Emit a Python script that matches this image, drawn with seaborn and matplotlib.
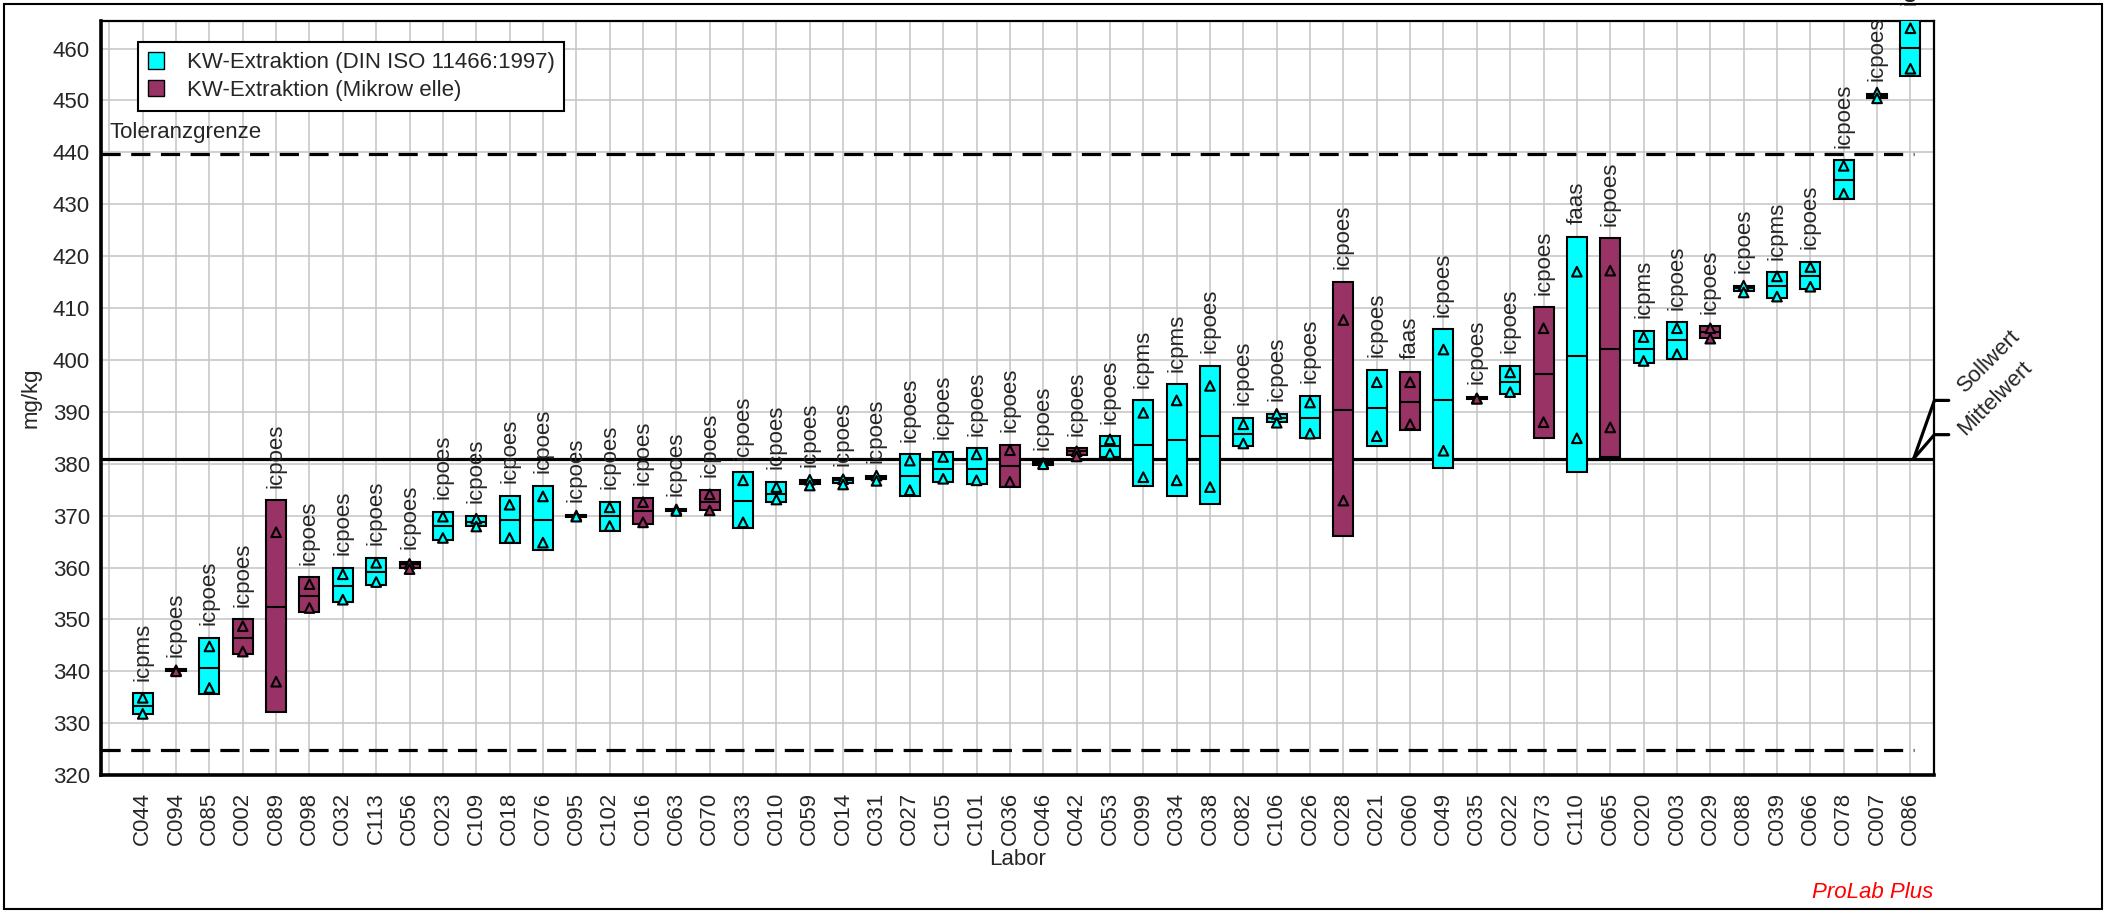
import matplotlib
matplotlib.use("Agg")
import numpy as np
import pandas as pd
import matplotlib.pyplot as plt
from matplotlib.patches import Patch, Rectangle
import seaborn as sns

# Labore in Reihenfolge der Darstellung
labs = ["C044", "C094", "C085", "C002", "C089", "C098", "C032", "C113", "C056", "C023",
        "C109", "C018", "C076", "C095", "C102", "C016", "C063", "C070", "C033", "C010",
        "C059", "C014", "C031", "C027", "C105", "C101", "C036", "C046", "C042", "C053",
        "C099", "C034", "C038", "C082", "C106", "C026", "C028", "C021", "C060", "C049",
        "C035", "C022", "C073", "C110", "C065", "C020", "C003", "C029", "C088", "C039",
        "C066", "C078", "C007", "C086"]

methods = ["icpms", "icpoes", "icpoes", "icpoes", "icpoes", "icpoes", "icpoes", "icpoes", "icpoes", "icpoes",
           "icpoes", "icpoes", "icpoes", "icpoes", "icpoes", "icpoes", "icpoes", "icpoes", "icpoes", "icpoes",
           "icpoes", "icpoes", "icpoes", "icpoes", "icpoes", "icpoes", "icpoes", "icpoes", "icpoes", "icpoes",
           "icpms", "icpms", "icpoes", "icpoes", "icpoes", "icpoes", "icpoes", "icpoes", "faas", "icpoes",
           "icpoes", "icpoes", "icpoes", "faas", "icpoes", "icpms", "icpoes", "icpoes", "icpoes", "icpms",
           "icpoes", "icpoes", "icpoes", "icpoes"]

# D = DIN ISO 11466, M = Mikrowelle
groups = ["D", "M", "D", "M", "M", "M", "D", "D", "M", "D",
          "D", "D", "D", "D", "D", "M", "D", "M", "D", "D",
          "D", "D", "D", "D", "D", "D", "M", "D", "M", "D",
          "D", "D", "D", "D", "D", "D", "M", "D", "M", "D",
          "M", "D", "M", "D", "M", "D", "D", "M", "D", "D",
          "D", "D", "D", "D"]

box_lo = [331.8, 340.0, 335.6, 343.3, 332.2, 351.4, 353.3, 356.7, 359.9, 365.3,
          368.0, 364.8, 363.4, 369.8, 367.1, 368.3, 370.9, 371.1, 367.6, 372.6,
          376.0, 376.3, 377.0, 373.8, 376.5, 376.0, 375.6, 379.8, 381.6, 381.3,
          375.7, 373.8, 372.3, 383.4, 388.1, 384.9, 366.0, 383.4, 386.5, 379.2,
          392.4, 393.5, 385.0, 378.4, 381.3, 399.4, 400.2, 404.2, 413.3, 411.9,
          413.7, 431.1, 450.4, 454.7]

box_hi = [335.8, 340.4, 346.5, 350.0, 373.0, 358.1, 360.0, 361.9, 361.1, 370.7,
          370.0, 373.8, 375.8, 370.2, 372.7, 373.4, 371.3, 375.0, 378.4, 376.5,
          376.9, 377.2, 377.7, 381.8, 382.3, 383.0, 383.7, 380.3, 383.0, 385.3,
          392.2, 395.3, 398.9, 388.9, 389.6, 393.1, 415.1, 398.1, 397.7, 405.9,
          392.9, 398.9, 410.1, 423.7, 423.4, 405.6, 407.3, 406.5, 414.3, 416.9,
          418.9, 438.5, 451.3, 466.0]

box_med = [333.4, 340.2, 340.7, 346.5, 352.3, 354.5, 356.5, 359.1, 360.6, 368.0,
           368.8, 369.1, 369.1, 370.0, 369.9, 370.8, 371.1, 372.7, 372.9, 374.1,
           376.5, 376.8, 377.4, 377.6, 379.0, 379.0, 379.5, 380.1, 382.4, 383.4,
           383.7, 384.5, 385.3, 385.7, 388.9, 388.9, 390.4, 390.8, 391.8, 392.3,
           392.7, 395.7, 397.3, 400.8, 402.2, 402.2, 403.9, 405.3, 413.9, 414.3,
           416.1, 434.6, 450.9, 460.1]

# Einzelwerte (Dreiecke)
val_a = [334.9, 340.2, 344.8, 348.7, 366.8, 356.8, 358.7, 360.9, 360.7, 369.8,
         369.4, 372.1, 373.7, 370.0, 371.6, 372.6, 371.2, 374.1, 376.8, 375.5,
         376.9, 377.0, 377.7, 380.6, 381.3, 381.8, 382.6, 380.1, 382.4, 384.7,
         389.8, 392.2, 395.0, 387.6, 389.6, 391.8, 407.7, 395.7, 395.7, 402.0,
         392.6, 397.6, 406.1, 417.0, 417.2, 404.4, 406.1, 406.1, 414.3, 416.1,
         417.9, 437.4, 451.5, 463.9]

val_b = [331.8, 340.0, 336.8, 343.8, 338.0, 352.2, 353.8, 357.2, 359.7, 365.7,
         367.9, 365.7, 364.8, 369.8, 368.0, 368.7, 370.9, 371.0, 368.7, 373.1,
         375.8, 376.0, 376.7, 374.9, 377.1, 376.8, 376.5, 379.9, 381.4, 381.9,
         377.4, 376.8, 375.5, 383.9, 387.9, 385.8, 372.9, 385.3, 387.6, 382.5,
         392.5, 393.8, 388.0, 384.9, 387.0, 399.8, 401.1, 404.1, 413.0, 412.2,
         414.1, 432.0, 450.4, 456.1]

sollwert = 381.0
tol_hi = 439.7
tol_lo = 324.9

group_names = {"D": "KW-Extraktion (DIN ISO 11466:1997)", "M": "KW-Extraktion (Mikrow elle)"}
colors = {"D": "#00FFFF", "M": "#993366"}

df = pd.DataFrame({"lab": labs, "method": methods, "group": groups,
                   "lo": box_lo, "hi": box_hi, "med": box_med, "a": val_a, "b": val_b})
df["pos"] = np.arange(1, len(df) + 1)
pts = df.melt(id_vars=["pos", "group"], value_vars=["a", "b"], value_name="value")

sns.set_theme(style="white")
plt.rcParams["font.family"] = ["Liberation Sans", "DejaVu Sans"]
fs = 16

fig = plt.figure(figsize=(21.09, 9.13), dpi=100)
ax = fig.add_axes([0.0479, 0.151, 0.869, 0.826])

# Gitter
ax.set_xlim(-0.25, 54.7)
ax.set_ylim(320, 465.3)
ax.set_xticks(np.arange(0, len(df) + 1))
ax.set_xticklabels([""] + labs, rotation=90, fontsize=fs)
ax.set_yticks(np.arange(320, 461, 10))
ax.tick_params(axis="y", labelsize=fs, length=5, width=1.2, color="#808080", pad=3)
ax.tick_params(axis="x", length=8, width=1.2, color="#a8a8a8", pad=4)
ax.grid(True, color="#c4c4c4", linewidth=1.1)
ax.set_axisbelow(True)

# Toleranz- und Sollwertlinien
ax.hlines([tol_hi, tol_lo], -0.25, 54.1, colors="black", linewidth=2.3,
          linestyles=(0, (6, 3.3)), zorder=2)
ax.axhline(sollwert, color="black", linewidth=2.3, zorder=2)

# Boxen
ax.bar(df["pos"], df["hi"] - df["lo"], bottom=df["lo"], width=0.6,
       color=[colors[g] for g in df["group"]], edgecolor="black", linewidth=1.5, zorder=3)
ax.hlines(df["med"], df["pos"] - 0.3, df["pos"] + 0.3, colors="black", linewidth=1.5, zorder=4)

sns.scatterplot(data=pts, x="pos", y="value", hue="group", palette=colors, marker="^",
                s=48, edgecolor="black", linewidth=1.5, legend=False, zorder=5, ax=ax)

# Methodenbeschriftung
for _, r in df.iterrows():
    ax.annotate(r["method"], (r["pos"], r["hi"]), xytext=(0, 9), textcoords="offset points",
                rotation=90, ha="center", va="bottom", fontsize=fs, annotation_clip=False)

ax.text(0.0, 443.9, "Toleranzgrenze", fontsize=fs, va="center", ha="left")

# Sollwert / Mittelwert Hinweislinien
ax.plot([54.1, 54.72, 55.15], [sollwert, 392.2, 392.2], color="black", lw=2.3, clip_on=False)
ax.plot([54.1, 54.72, 55.15], [sollwert, 385.6, 385.6], color="black", lw=2.3, clip_on=False)
ax.text(55.65, 393.6, "Sollwert", rotation=45, rotation_mode="anchor", ha="left", va="baseline",
        fontsize=fs, clip_on=False)
ax.text(55.65, 385.4, "Mittelwert", rotation=45, rotation_mode="anchor", ha="left", va="baseline",
        fontsize=fs, clip_on=False)

ax.set_xlabel("Labor", fontsize=fs, labelpad=3)
ax.set_ylabel("mg/kg", fontsize=fs, labelpad=8)

for side in ["left", "bottom"]:
    ax.spines[side].set_linewidth(2.6)
    ax.spines[side].set_color("black")
for side in ["top", "right"]:
    ax.spines[side].set_linewidth(1.6)
    ax.spines[side].set_color("black")

handles = [Patch(facecolor=colors[g], edgecolor="black", label=group_names[g]) for g in ["D", "M"]]
leg = ax.legend(handles=handles, loc="upper left", bbox_to_anchor=(0.02, 0.972), borderaxespad=0,
                fancybox=False, edgecolor="black", framealpha=1, fontsize=fs,
                handlelength=0.75, handleheight=0.75, handletextpad=1.0, borderpad=0.45,
                labelspacing=0.3)
leg.get_frame().set_linewidth(1.5)

fig.text(0.9166, 0.022, "ProLab Plus", color="red", style="italic", fontsize=fs,
         ha="right", va="center")
fig.patches.append(Rectangle((0.0021, 0.0044), 0.9946, 0.9912, transform=fig.transFigure,
                             fill=False, edgecolor="black", linewidth=1.5))

fig.savefig("out.png", dpi=100)
